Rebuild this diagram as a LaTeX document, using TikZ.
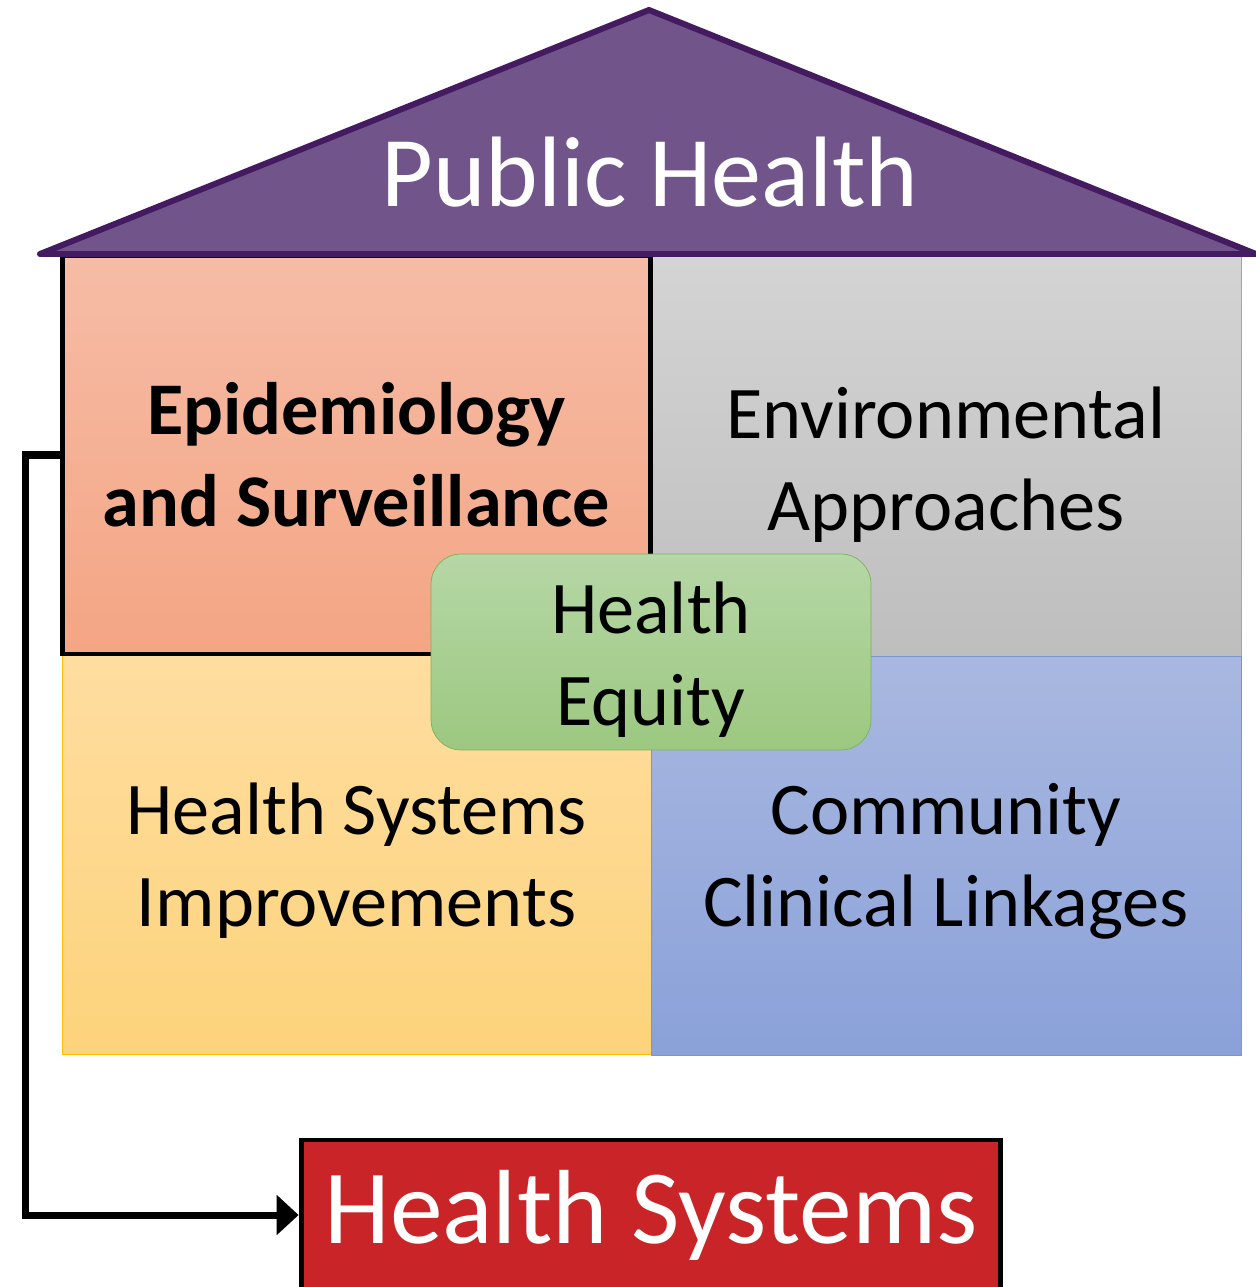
\documentclass[tikz,border=0pt]{standalone}
\usepackage{fontspec}
\setmainfont{Carlito}
\usetikzlibrary{arrows.meta}
\definecolor{roofpurple}{RGB}{113,85,138}
\definecolor{roofline}{RGB}{68,26,96}
\definecolor{hsred}{RGB}{201,37,40}
\begin{document}
\begin{tikzpicture}[x=0.02cm,y=-0.02cm,
                      quad/.style={rectangle,draw,inner sep=0pt},
                      quad text/.style={align=center,inner sep=0pt,
                      font=\fontsize{42.3}{52.5}\selectfont},
                      tall/.style={minimum width=11.8cm,minimum height=8cm}
                     ]
   \useasboundingbox (0,0) rectangle (1256,1287);
   % the four pillars
   \node[quad,tall,draw={rgb,255:red,165;green,165;blue,165},
         top color={rgb,255:red,212;green,212;blue,212},
         bottom color={rgb,255:red,190;green,190;blue,190}] (env) at (946,456) {};
   \node[quad,tall,minimum width=11.78cm,draw={rgb,255:red,255;green,192;blue,0},
         top color={rgb,255:red,254;green,221;blue,160},
         bottom color={rgb,255:red,253;green,211;blue,123}] (hsi) at (356.5,854.5) {};
   \node[quad,tall,minimum height=7.98cm,draw={rgb,255:red,125;green,149;blue,201},
         top color={rgb,255:red,169;green,184;blue,224},
         bottom color={rgb,255:red,138;green,161;blue,217}] (ccl) at (946,855.5) {};
   \node[quad,minimum width=11.78cm,minimum height=7.96cm,line width=2.8pt,
         top color={rgb,255:red,246;green,188;blue,166},
         bottom color={rgb,255:red,244;green,165;blue,132}] (epi) at (356.5,455) {};
   \node[quad text] (envtext) at (946,464.5) {Environmental\\Approaches};
   \node[quad text] (hsitext) at (356.5,861) {Health Systems\\Improvements};
   \node[quad text] (ccltext) at (946,861) {Community\\Clinical Linkages};
   \node[quad text,font=\bfseries\fontsize{42.3}{52.5}\selectfont]
         (epitext) at (356.5,455) {Epidemiology\\and Surveillance};
   % roof
   \coordinate (eaveL) at (40,254);
   \coordinate (apex)  at (649,10);
   \coordinate (eaveR) at (1256,254);
   \draw[roofline,fill=roofpurple,line width=3.4pt,line join=round]
     (eaveL) -- (apex) -- (eaveR) -- cycle;
   \node[text=white,font=\fontsize{57}{60}\selectfont] (ph) at (650,172) {Public Health};
   % centre
   \node[quad,rounded corners=0.6cm,minimum width=8.8cm,minimum height=3.92cm,
         draw={rgb,255:red,122;green,179;blue,90},
         top color={rgb,255:red,182;green,215;blue,166},
         bottom color={rgb,255:red,156;green,200;blue,128}] (eq) at (651,652) {};
   \node[quad text] (eqtext) at (651,659.5) {Health\\Equity};
   % bottom box
   \node[rectangle,draw,line width=2.8pt,fill=hsred,text=white,
         minimum width=14cm,minimum height=3cm,
         font=\fontsize{60}{62}\selectfont] (hs) at (651,1215) {Health Systems};
   \draw[line width=4pt,-{Triangle[length=0.44cm,width=0.78cm]}]
     (epi.west) -- ++(-34,0) |- (hs.west);
\end{tikzpicture}
\end{document}
